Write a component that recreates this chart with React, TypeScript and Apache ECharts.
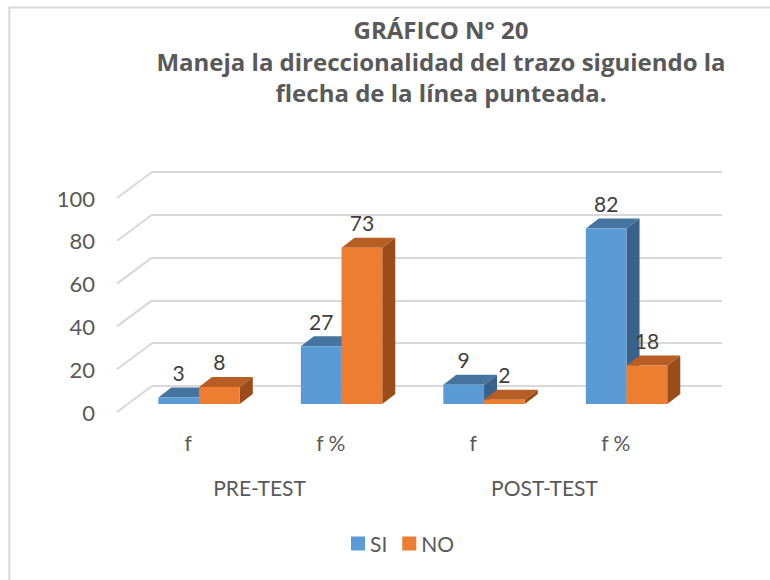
import React, { useEffect, useRef } from "react";
import * as echarts from "echarts";

const categories = ["f", "f %", "f", "f %"];
const groups = ["PRE-TEST", "POST-TEST"];
const siValues = [3, 27, 9, 82];
const noValues = [8, 73, 2, 18];
const yTicks = [0, 20, 40, 60, 80, 100];

const FONT = "Lato, 'Open Sans', sans-serif";
const TITLE_FONT = "'Open Sans', Lato, sans-serif";
const TXT = "#595959";

const BLUE = { front: "#5B9BD5", top: "#44749F", side: "#39628A" };
const ORANGE = { front: "#ED7D31", top: "#B85D23", side: "#9A4C1B" };

// oblique depth offsets
const BAR_DX = 13;
const BAR_DY = 10;
const WALL_DX = 35;
const WALL_DY = 26;

function barRender(seriesIdx: number, colors: { front: string; top: string; side: string }) {
  return (params: any, api: any) => {
    const ci = api.value(0);
    const v = api.value(1);
    const top = api.coord([ci, v]);
    const base = api.coord([ci, 0]);
    const band = api.size([1, 0])[0];
    const bw = band * 0.2857;
    const x0 = top[0] - bw + seriesIdx * bw;
    const x1 = x0 + bw;
    const yt = top[1];
    const yb = base[1];
    return {
      type: "group",
      children: [
        {
          type: "polygon",
          shape: { points: [[x1, yt], [x1 + BAR_DX, yt - BAR_DY], [x1 + BAR_DX, yb - BAR_DY], [x1, yb]] },
          style: { fill: colors.side },
        },
        {
          type: "polygon",
          shape: { points: [[x0, yt], [x0 + BAR_DX, yt - BAR_DY], [x1 + BAR_DX, yt - BAR_DY], [x1, yt]] },
          style: { fill: colors.top },
        },
        {
          type: "rect",
          shape: { x: x0, y: yt, width: bw, height: yb - yt },
          style: { fill: colors.front },
        },
        {
          type: "text",
          x: (x0 + x1) / 2,
          y: yt - 25,
          style: {
            text: String(v),
            align: "center",
            verticalAlign: "middle",
            font: `21px ${FONT}`,
            fill: "#404040",
          },
        },
      ],
    };
  };
}

export default function App() {
  const ref = useRef<HTMLDivElement>(null);
  useEffect(() => {
    if (!ref.current) return;
    const chart = echarts.init(ref.current, undefined, { renderer: "svg" });
    const hiddenCat = (gridIndex: number) => ({
      type: "category",
      gridIndex,
      data: categories,
      show: false,
      axisLine: { show: false },
      axisTick: { show: false },
      axisLabel: { show: false },
      splitLine: { show: false },
    });
    const option: any = {
      animation: false,
      backgroundColor: "#ffffff",
      title: {
        text: "GRÁFICO N° 20\nManeja la direccionalidad del trazo siguiendo la\nflecha de la línea punteada.",
        left: 441,
        top: 14,
        padding: 0,
        textAlign: "center",
        textStyle: {
          fontFamily: TITLE_FONT,
          fontSize: 24,
          fontWeight: "bold",
          color: TXT,
          lineHeight: 31.5,
        },
      },
      graphic: [
        {
          type: "rect",
          shape: { x: 9.3, y: 7.5, width: 900, height: 700 },
          style: { fill: "none", stroke: "#D9D9D9", lineWidth: 2 },
          silent: true,
          z: -10,
        },
      ],
      legend: {
        data: ["SI", "NO"],
        left: 351,
        top: 533,
        padding: 0,
        icon: "rect",
        itemWidth: 14,
        itemHeight: 14,
        itemGap: 15,
        textStyle: { fontFamily: FONT, fontSize: 21, color: TXT },
      },
      grid: [
        { left: 117, top: 198, width: 570, height: 214 }, // front plane
        { left: 127.8, top: 190, width: 570, height: 214 }, // bar plane
        { left: 152, top: 172, width: 570, height: 214 }, // back wall
      ],
      xAxis: [
        {
          type: "category",
          gridIndex: 0,
          data: categories,
          axisLine: { show: false },
          axisTick: { show: false },
          splitLine: { show: false },
          axisLabel: { margin: 20, fontFamily: FONT, fontSize: 21, color: TXT },
        },
        {
          type: "category",
          gridIndex: 0,
          position: "bottom",
          offset: 45,
          data: groups,
          axisLine: { show: false },
          axisTick: { show: false },
          splitLine: { show: false },
          axisLabel: { margin: 20, fontFamily: FONT, fontSize: 21, color: TXT },
        },
        hiddenCat(1),
        hiddenCat(2),
      ],
      yAxis: [
        {
          type: "value",
          gridIndex: 0,
          min: 0,
          max: 100,
          interval: 20,
          axisLine: { show: false },
          axisTick: { show: false },
          splitLine: { show: false },
          axisLabel: { margin: 22, fontFamily: FONT, fontSize: 22, color: TXT },
        },
        {
          type: "value",
          gridIndex: 1,
          min: 0,
          max: 100,
          interval: 20,
          show: false,
          splitLine: { show: false },
        },
        {
          type: "value",
          gridIndex: 2,
          min: 0,
          max: 100,
          interval: 20,
          axisLine: { show: false },
          axisTick: { show: false },
          axisLabel: { show: false },
          splitLine: { show: true, lineStyle: { color: "#D9D9D9", width: 2 } },
        },
      ],
      series: [
        {
          type: "custom",
          name: "walls",
          xAxisIndex: 0,
          yAxisIndex: 0,
          silent: true,
          data: yTicks.map((v) => [0, v]),
          renderItem: (params: any, api: any) => {
            const p = api.coord([0, api.value(1)]);
            const x = params.coordSys.x;
            return {
              type: "line",
              shape: { x1: x, y1: p[1], x2: x + WALL_DX, y2: p[1] - WALL_DY },
              style: { stroke: "#D9D9D9", lineWidth: 2 },
            };
          },
        },
        {
          type: "custom",
          name: "SI",
          xAxisIndex: 2,
          yAxisIndex: 1,
          itemStyle: { color: BLUE.front },
          data: siValues.map((v, i) => [i, v]),
          renderItem: barRender(0, BLUE),
          z: 3,
        },
        {
          type: "custom",
          name: "NO",
          xAxisIndex: 2,
          yAxisIndex: 1,
          itemStyle: { color: ORANGE.front },
          data: noValues.map((v, i) => [i, v]),
          renderItem: barRender(1, ORANGE),
          z: 4,
        },
      ],
    };
    chart.setOption(option);
    return () => chart.dispose();
  }, []);
  return (
    <div
      ref={ref}
      style={{ position: "absolute", left: 0, top: 0, width: 770, height: 580 }}
    />
  );
}
